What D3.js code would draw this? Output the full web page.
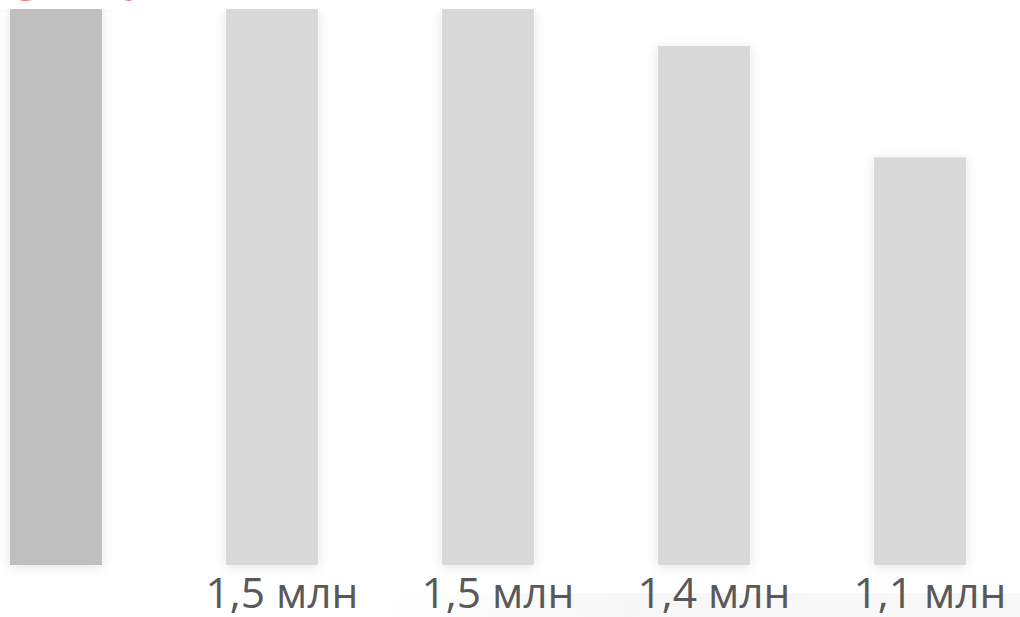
<!DOCTYPE html>
<html>
<head>
<meta charset="utf-8">
<script src="https://cdn.jsdelivr.net/npm/d3@7"></script>
<style>
  html, body { margin: 0; padding: 0; background: #ffffff; }
  svg { display: block; }
</style>
</head>
<body>
<svg id="chart" width="1020" height="617"></svg>
<script>
// ---- data ----
const categories = ["Итого", "Позиция 1", "Позиция 2", "Позиция 3", "Позиция 4"];
const values = [3.0, 1.5, 1.5, 1.4, 1.1];            // млн
const valueLabels = ["3 млн", "1,5 млн", "1,5 млн", "1,4 млн", "1,1 млн"];
const highlight = [true, false, false, false, false];

const W = 1020, H = 617;
const svg = d3.select("#chart");

const defs = svg.append("defs");
const f = defs.append("filter").attr("id", "shadow")
  .attr("x", "-30%").attr("y", "-10%").attr("width", "160%").attr("height", "120%");
f.append("feDropShadow").attr("dx", 0).attr("dy", 2).attr("stdDeviation", 6)
  .attr("flood-color", "#000").attr("flood-opacity", 0.10);

const grad = defs.append("linearGradient").attr("id", "floor").attr("x1", 0).attr("x2", 1).attr("y1", 0).attr("y2", 0);
grad.append("stop").attr("offset", "0").attr("stop-color", "#f7f7f7").attr("stop-opacity", 0);
grad.append("stop").attr("offset", "0.4").attr("stop-color", "#f7f7f7").attr("stop-opacity", 1);
grad.append("stop").attr("offset", "1").attr("stop-color", "#f8f8f8").attr("stop-opacity", 1);

defs.append("clipPath").attr("id", "plotclip")
  .append("rect").attr("x", -20).attr("y", 9).attr("width", W + 40).attr("height", 600);

// faint floor band
svg.append("rect").attr("x", 360).attr("y", 593).attr("width", W - 360).attr("height", H - 593)
  .attr("fill", "url(#floor)");

const x = d3.scaleBand().domain(categories).range([10, 966]).paddingInner(0.574).paddingOuter(0);
const y = d3.scaleLinear().domain([0, 1.5]).range([565, 9]);

svg.append("g").attr("clip-path", "url(#plotclip)")
  .selectAll("rect").data(categories).join("rect")
  .attr("x", d => x(d))
  .attr("y", (d, i) => y(values[i]))
  .attr("width", x.bandwidth())
  .attr("height", (d, i) => y(0) - y(values[i]))
  .attr("fill", (d, i) => highlight[i] ? "#bfbfbf" : "#d9d9d9")
  .attr("filter", "url(#shadow)");

// value labels under bars (non-highlighted)
svg.append("g").selectAll("text").data(categories.filter((d, i) => !highlight[i])).join("text")
  .attr("x", d => x(d) + x.bandwidth() / 2 + 10)
  .attr("y", 608)
  .attr("text-anchor", "middle")
  .attr("font-family", "'Open Sans', sans-serif")
  .attr("font-size", 42)
  .attr("fill", "#595959")
  .attr("textLength", 153)
  .attr("lengthAdjust", "spacingAndGlyphs")
  .text(d => valueLabels[categories.indexOf(d)]);

// highlighted value label (red, cut at top)
svg.append("text")
  .attr("x", x(categories[0]))
  .attr("y", 0)
  .attr("font-family", "'Open Sans', sans-serif")
  .attr("font-weight", "bold")
  .attr("font-size", 60)
  .attr("fill", "#e3000f")
  .attr("textLength", 203)
  .attr("lengthAdjust", "spacingAndGlyphs")
  .text(valueLabels[0]);
</script>
</body>
</html>
